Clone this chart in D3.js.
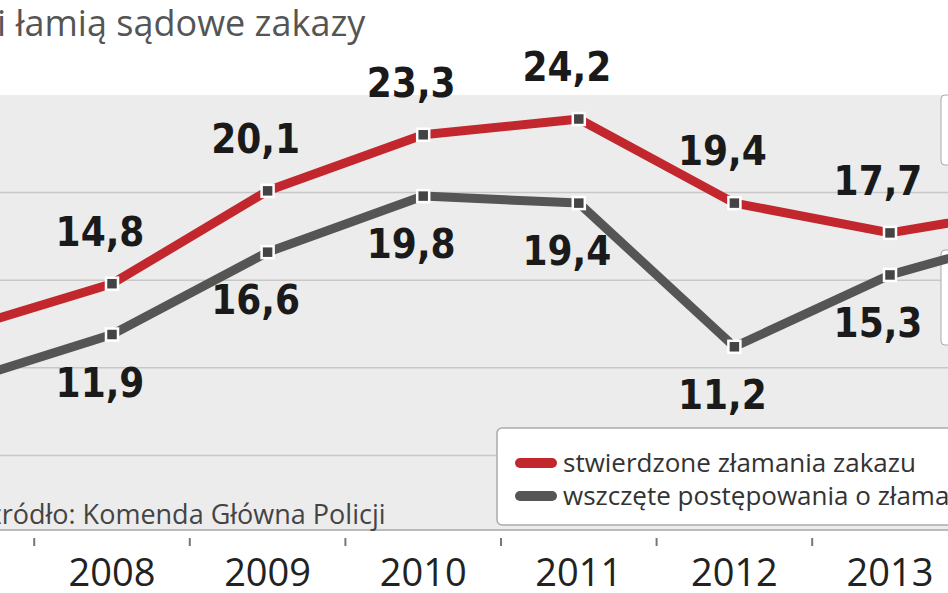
<!DOCTYPE html><html><head><meta charset="utf-8"><script src="https://cdn.jsdelivr.net/npm/d3@7"></script>
<style>body{margin:0;background:#fff}svg{display:block}</style></head><body><svg width="948" height="593"></svg>
<script>
const years=[2007,2008,2009,2010,2011,2012,2013,2014];
const red=[12.1,14.8,20.1,23.3,24.2,19.4,17.7,19.2];
const gray=[9.1,11.9,16.6,19.8,19.4,11.2,15.3,17.8];
const labelYears=[2008,2009,2010,2011,2012,2013];
const ticks=[0,5,10,15,20,25];
const svg=d3.select("svg");
const x=d3.scaleLinear().domain([2008,2013]).range([112,890]);
const y=d3.scaleLinear().domain([0,25]).range([543,105]);
svg.append("rect").attr("x",0).attr("y",95).attr("width",948).attr("height",435).attr("fill","#ececec");
svg.append("g").selectAll("line").data(ticks.slice(1,5)).join("line")
 .attr("x1",0).attr("x2",948).attr("y1",d=>y(d)).attr("y2",d=>y(d)).attr("stroke","#c8c8c8").attr("stroke-width",1.5);
svg.append("line").attr("x1",0).attr("x2",948).attr("y1",530).attr("y2",530).attr("stroke","#bbb").attr("stroke-width",2);
[[95,70],[250,95]].forEach(([t,h])=>svg.append("rect").attr("x",941).attr("y",t).attr("width",20).attr("height",h).attr("rx",4).attr("fill","#fff").attr("stroke","#aaa"));
const line=d3.line().x((d,i)=>x(years[i])).y(d=>y(d));
[[gray,"#555"],[red,"#c1272d"]].forEach(([s,c])=>{
 svg.append("path").attr("d",line(s)).attr("fill","none").attr("stroke",c).attr("stroke-width",9).attr("stroke-linejoin","round");
});
[red,gray].forEach(s=>{
 const pts=years.map((yr,i)=>[yr,s[i]]).filter(p=>labelYears.includes(p[0]));
 svg.append("g").selectAll("rect").data(pts).join("rect").attr("x",d=>x(d[0])-6).attr("y",d=>y(d[1])-6).attr("width",12).attr("height",12).attr("fill","#444").attr("stroke","#fff").attr("stroke-width",2.5);
});
const fmt=v=>String(v.toFixed(1)).replace(".",",");
const lab=svg.append("g").attr("font-family","DejaVu Sans Condensed, DejaVu Sans").attr("font-weight","bold").attr("font-size",40).attr("fill","#1a1a1a").attr("text-anchor","middle");
years.forEach((yr,i)=>{ if(!labelYears.includes(yr))return;
 lab.append("text").attr("x",x(yr)-12).attr("y",y(red[i])-38).text(fmt(red[i]));
 lab.append("text").attr("x",x(yr)-12).attr("y",y(gray[i])+62).text(fmt(gray[i]));
});
svg.append("rect").attr("x",497).attr("y",428).attr("width",470).attr("height",97).attr("rx",5).attr("fill","#fff").attr("stroke","#aaa").attr("stroke-width",1.5);
const leg=[["stwierdzone złamania zakazu","#c1272d",463],["wszczęte postępowania o złamanie zakazu","#555",496]];
leg.forEach(([t,c,yy])=>{
 svg.append("line").attr("x1",520).attr("x2",552).attr("y1",yy).attr("y2",yy).attr("stroke",c).attr("stroke-width",10).attr("stroke-linecap","round");
 svg.append("text").attr("x",563).attr("y",yy+9).attr("font-family","Open Sans").attr("font-size",26).attr("fill","#333").text(t);
});
svg.append("text").attr("x",-11).attr("y",524).attr("font-family","Open Sans").attr("font-size",27).attr("fill","#444").text("źródło: Komenda Główna Policji");
svg.append("text").attr("x",-3).attr("y",36).attr("font-family","Open Sans").attr("font-size",36).attr("fill","#555").text("i łamią sądowe zakazy");
const xa=svg.append("g");
d3.range(2007,2015).forEach(yr=>{
 xa.append("line").attr("x1",x(yr+0.5)).attr("x2",x(yr+0.5)).attr("y1",538).attr("y2",546).attr("stroke","#777").attr("stroke-width",2);
 xa.append("text").attr("x",x(yr)).attr("y",586).attr("text-anchor","middle").attr("font-family","Open Sans").attr("font-size",38).attr("fill","#222").text(yr);
});
</script></body></html>
